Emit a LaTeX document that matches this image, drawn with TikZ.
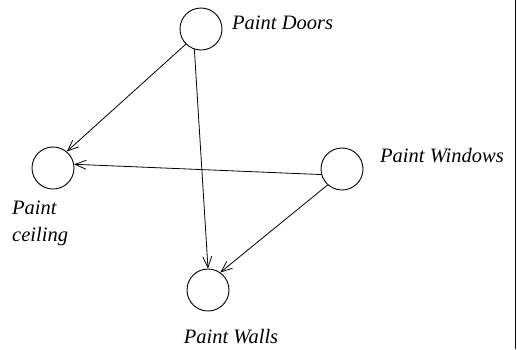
\documentclass[tikz,border=0pt]{standalone}
\usepackage{fontspec}
\setmainfont{Liberation Serif}
\usetikzlibrary{arrows.meta}
\begin{document}
\begin{tikzpicture}[x=1pt,y=-1pt,
  task/.style={circle,draw,line width=0.9pt,minimum size=42pt,inner sep=0pt},
  lbl/.style={font=\fontsize{20.5}{27}\selectfont\itshape,inner sep=0pt},
  dep/.style={line width=0.8pt,-{Straight Barb[length=11pt,width=9pt]}}]
\useasboundingbox (0,0) rectangle (517,349);
\node[task] (D) at (201,29) {};
\node[task] (C) at (53,168) {};
\node[task] (W) at (342,169) {};
\node[task] (L) at (208,290) {};
\node[lbl,anchor=west] (dl) at (232,23) {Paint Doors};
\node[lbl,anchor=west] (wl) at (380,156) {Paint Windows};
\node[lbl,anchor=north west,align=left] (cl) at (12,201) {Paint\\ceiling};
\node[lbl] (ll) at (231,337) {Paint Walls};
\draw[dep] (D.225) -- (C.50);
\draw[dep] (D.-108) -- (L.90);
\draw[dep] (W.195) -- (C.10);
\draw[dep] (W.228) -- (L.55);
\coordinate (t) at (515,0);
\coordinate (b) at (515,349);
\draw[line width=0.9pt] (t) -- (b);
\end{tikzpicture}
\end{document}
